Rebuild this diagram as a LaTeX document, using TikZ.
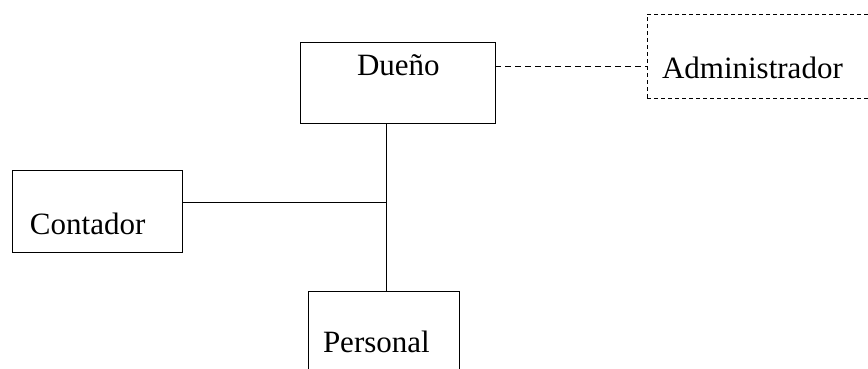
\documentclass[tikz,border=0pt]{standalone}
\usepackage{fontspec}
\setmainfont{Liberation Serif}
\begin{document}
\begin{tikzpicture}[x=1pt,y=-1pt,
  box/.style={draw=black,line width=0.9pt,inner sep=0pt,outer sep=0pt,anchor=north west},
  dbox/.style={box,dash pattern=on 4pt off 3pt},
  lbl/.style={inner sep=0pt,outer sep=0pt,anchor=base west,font=\fontsize{31}{37}\selectfont},
  conn/.style={draw=black,line width=0.9pt},
  dconn/.style={conn,dash pattern=on 6pt off 4pt}]
\useasboundingbox (0,0) rectangle (868,368);
\clip (0,0) rectangle (868,368);
\node[box,minimum width=195pt,minimum height=81pt] (dueno) at (300,42) {};
\node[dbox,minimum width=233pt,minimum height=84pt] (admin) at (647,14) {};
\node[box,minimum width=170pt,minimum height=82pt] (contador) at (12,170) {};
\node[box,minimum width=151pt,minimum height=89pt] (personal) at (308,291) {};
\node[lbl] (tdueno) at (357,75) {Dueño};
\node[lbl] (tadmin) at (662,78) {Administrador};
\node[lbl] (tcontador) at (30,234) {Contador};
\node[lbl] (tpersonal) at (323,352) {Personal};
\coordinate (j) at (386,202);
\coordinate (d) at (0,66);
\draw[dconn] (dueno.east |- d) -- (admin.west |- d);
\draw[conn] (dueno.south -| j) -- (personal.north -| j);
\draw[conn] (contador.east |- j) -- (j);
\end{tikzpicture}
\end{document}
